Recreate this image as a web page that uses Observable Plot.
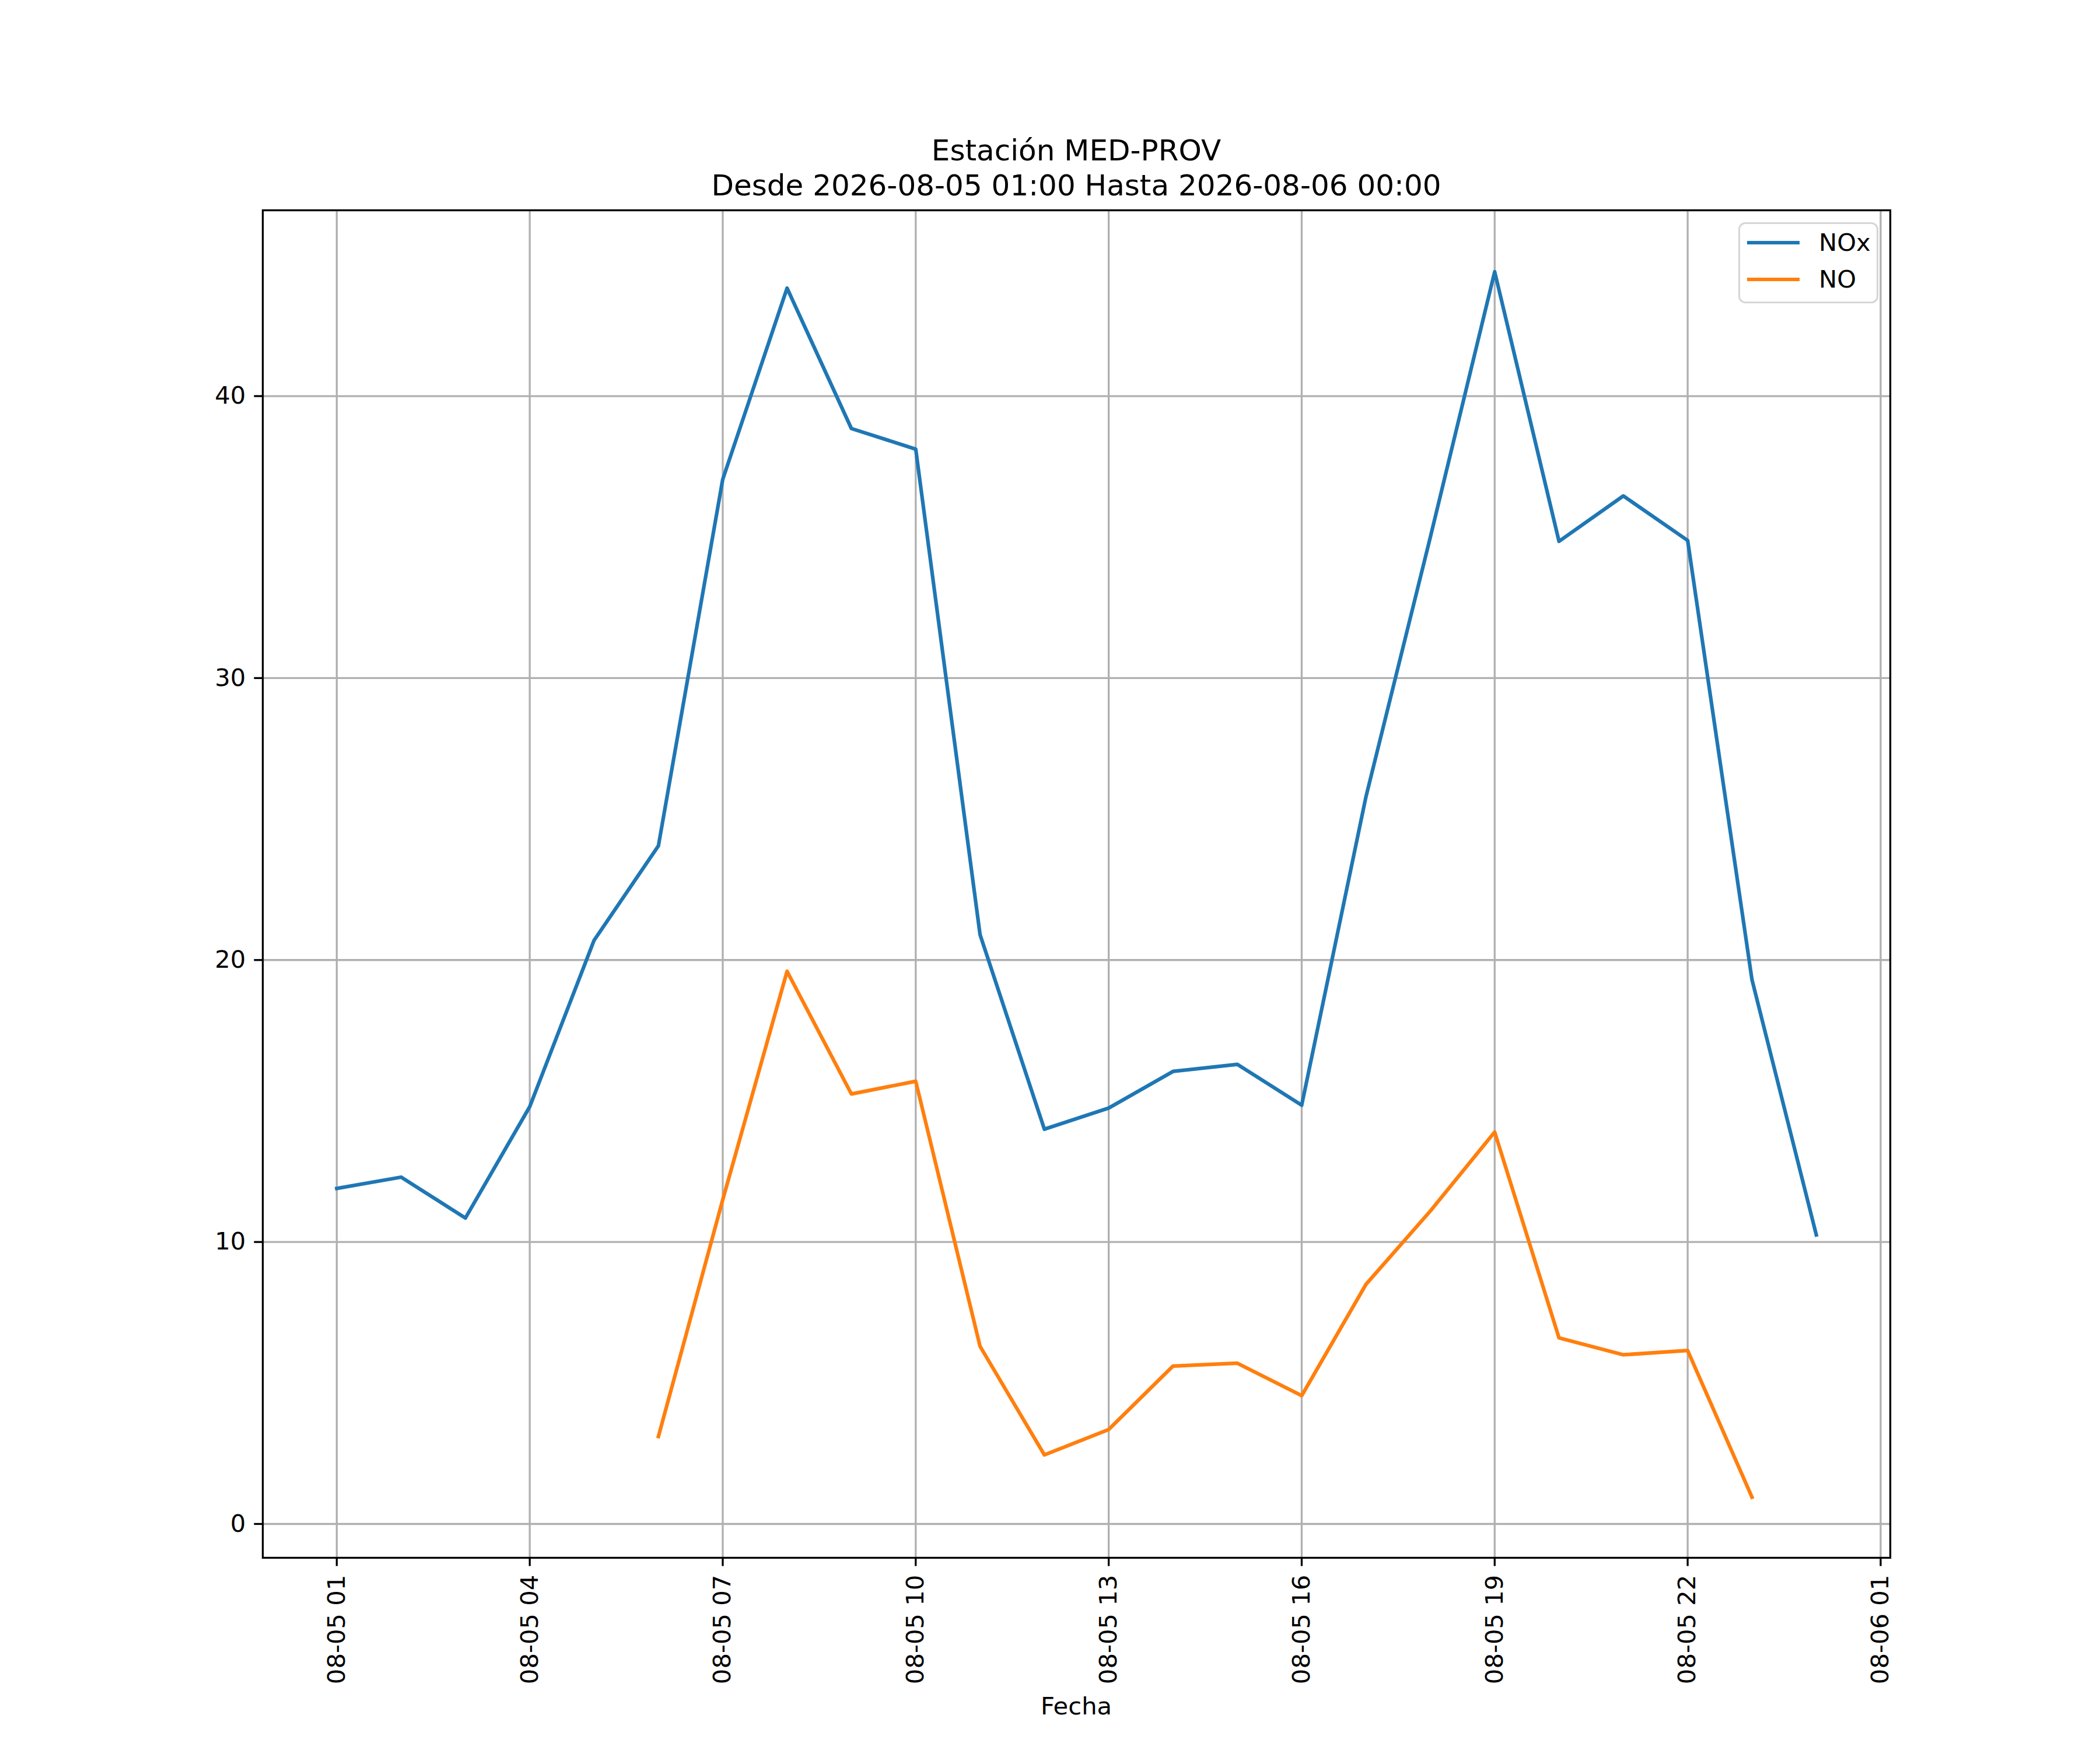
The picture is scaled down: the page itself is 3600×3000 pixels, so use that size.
<!DOCTYPE html>
<html>
<head>
<meta charset="utf-8">
<script src="https://cdn.jsdelivr.net/npm/d3@7"></script>
<script src="https://cdn.jsdelivr.net/npm/@observablehq/plot@0.6"></script>
<style>
  html, body { margin: 0; padding: 0; background: #fff; }
  #fig { position: relative; width: 3600px; height: 3000px; background: #fff; font-family: "DejaVu Sans", sans-serif; }
  #title { position: absolute; left: 0; width: 3690px; top: 228px; text-align: center; font-size: 50px; line-height: 60px; color: #000; }
  #xlabel { position: absolute; left: 0; width: 3690px; top: 2900px; text-align: center; font-size: 41.7px; line-height: 50px; color: #000; }
  #legend { position: absolute; left: 2980px; top: 381px; width: 234px; height: 133px; border: 3.3px solid #d6d6d6; border-radius: 12px; background: rgba(255,255,255,0.8); }
  .sw { position: absolute; left: 12px; width: 90px; height: 6.25px; }
  .lt { position: absolute; left: 135px; font-size: 41.7px; line-height: 50px; color: #000; }
</style>
</head>
<body>
<div id="fig">
  <div id="chart"></div>
  <div id="title">Estación MED-PROV<br>Desde 2026-08-05 01:00 Hasta 2026-08-06 00:00</div>
  <div id="xlabel">Fecha</div>
  <div id="legend">
    <div class="sw" style="top:29px;background:#1f77b4"></div>
    <div class="lt" style="top:7px">NOx</div>
    <div class="sw" style="top:92px;background:#ff7f0e"></div>
    <div class="lt" style="top:70px">NO</div>
  </div>
</div>
<script>
// Hours of 2026-08-05 (24 = 2026-08-06 00:00)
const noxHours = [1,2,3,4,5,6,7,8,9,10,11,12,13,14,15,16,17,18,19,20,21,22,23,24];
const noxValues = [11.9,12.3,10.85,14.8,20.7,24.05,37.05,43.83,38.85,38.12,20.9,14.0,14.75,16.05,16.3,14.85,25.8,35.0,44.41,34.85,36.46,34.88,19.3,10.25];
const noHours = [6,7,8,9,10,11,12,13,14,15,16,17,18,19,20,21,22,23];
const noValues = [3.1,11.5,19.6,15.25,15.7,6.3,2.45,3.35,5.6,5.7,4.55,8.5,11.1,13.9,6.6,6.0,6.15,0.95];
const xTickHours = [1,4,7,10,13,16,19,22,25];
const yTicks = [0,10,20,30,40];

const base = Date.UTC(2026, 7, 5, 0, 0);
const toDate = h => new Date(base + h * 3600e3);
const nox = noxHours.map((h, i) => ({date: toDate(h), value: noxValues[i]}));
const no = noHours.map((h, i) => ({date: toDate(h), value: noValues[i]}));
const xTicks = xTickHours.map(toDate);
const fmt = d3.utcFormat("%m-%d %H");

const plot = Plot.plot({
  width: 3600,
  height: 3000,
  marginLeft: 450,
  marginRight: 360,
  marginTop: 360,
  marginBottom: 330,
  style: {fontFamily: "DejaVu Sans", background: "transparent", color: "#000"},
  x: {type: "utc", domain: [toDate(-0.15), toDate(25.15)], label: null},
  y: {domain: [-1.2, 46.59], label: null},
  marks: [
    Plot.gridX(xTicks, {stroke: "#b0b0b0", strokeOpacity: 1, strokeWidth: 3.3}),
    Plot.gridY(yTicks, {stroke: "#b0b0b0", strokeOpacity: 1, strokeWidth: 3.3}),
    Plot.line(nox, {x: "date", y: "value", stroke: "#1f77b4", strokeWidth: 6.25, strokeLinejoin: "round", strokeLinecap: "square"}),
    Plot.line(no, {x: "date", y: "value", stroke: "#ff7f0e", strokeWidth: 6.25, strokeLinejoin: "round", strokeLinecap: "square"}),
    Plot.frame({stroke: "#000", strokeWidth: 3.3}),
    Plot.axisY({ticks: yTicks, tickFormat: d => String(d), tickSize: 14.6, tickPadding: 14.6, fontSize: 41.7, strokeWidth: 3.3, label: null}),
    Plot.axisX({ticks: xTicks, tickFormat: fmt, tickSize: 14.6, tickPadding: 14.6, tickRotate: -90, fontSize: 41.7, strokeWidth: 3.3, label: null})
  ]
});
document.getElementById("chart").appendChild(plot);
</script>
</body>
</html>
